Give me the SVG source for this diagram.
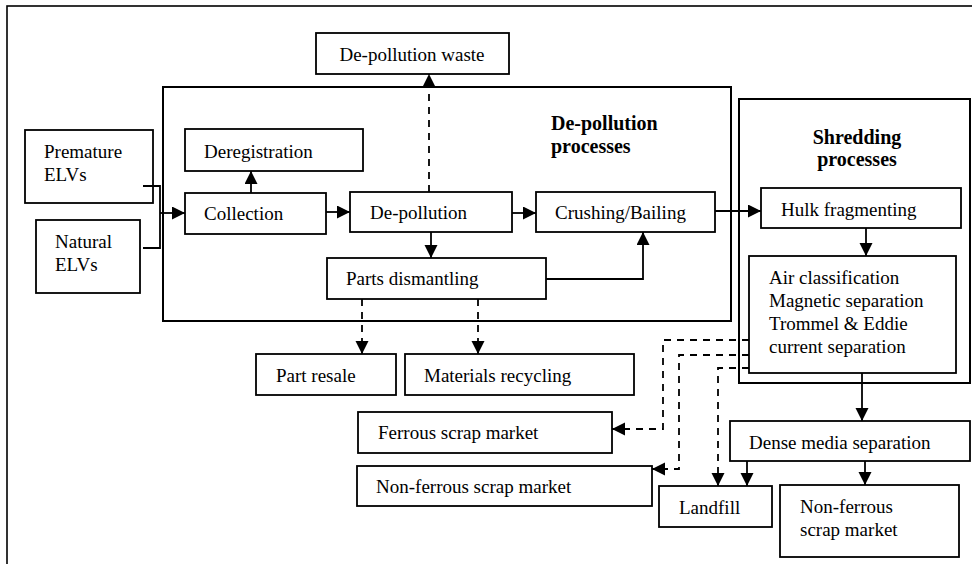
<svg xmlns="http://www.w3.org/2000/svg" width="972" height="564" viewBox="0 0 972 564">
<defs>
<marker id="ah" markerUnits="userSpaceOnUse" markerWidth="14" markerHeight="14" refX="13" refY="6.5" orient="auto">
<path d="M0,0 L13,6.5 L0,13 z" fill="#000"/>
</marker>
<style>
.box{fill:#fff;stroke:#000;stroke-width:1.8}
.grp{fill:none;stroke:#000;stroke-width:2}
.t{font-family:"Liberation Serif","Times New Roman",serif;font-size:19px;fill:#000}
.b{font-family:"Liberation Serif","Times New Roman",serif;font-size:20px;font-weight:bold;fill:#000}
.c{fill:none;stroke:#000;stroke-width:1.8}
.a{marker-end:url(#ah)}
.d{stroke-dasharray:7 6}
</style>
</defs>
<rect x="0" y="0" width="972" height="564" fill="#fff"/>
<rect x="7" y="6" width="975" height="575" fill="none" stroke="#000" stroke-width="1.6"/>

<g id="depollution-processes">
<rect class="grp" x="163" y="87" width="568" height="234"/>
<text class="b" x="551" y="130">De-pollution</text>
<text class="b" x="551" y="153">processes</text>
</g>
<g id="shredding-processes">
<rect class="grp" x="739" y="99" width="231" height="284"/>
<text class="b" x="857" y="144" text-anchor="middle">Shredding</text>
<text class="b" x="857" y="166" text-anchor="middle">processes</text>
</g>

<g id="connectors">
<polyline class="c" points="143,186 160,186 160,248 143,248"/>
<line class="c a" x1="160" y1="213" x2="185" y2="213"/>
<line class="c a" x1="251" y1="193" x2="251" y2="171"/>
<line class="c a" x1="326" y1="212" x2="350" y2="212"/>
<line class="c a d" x1="429" y1="192" x2="429" y2="74"/>
<line class="c a" x1="512" y1="213" x2="536" y2="213"/>
<line class="c a" x1="431" y1="232" x2="431" y2="258"/>
<polyline class="c a" points="546,279 643,279 643,232"/>
<line class="c a d" x1="362" y1="299" x2="362" y2="354"/>
<line class="c a d" x1="478" y1="299" x2="478" y2="354"/>
<line class="c a" x1="715" y1="211" x2="761" y2="211"/>
<line class="c a" x1="866" y1="228" x2="866" y2="256"/>
<polyline class="c a d" points="749,340 663,340 663,429 612,429"/>
<polyline class="c a d" points="749,355 679,355 679,469 652,469"/>
<polyline class="c a d" points="749,368 718,368 718,486"/>
<line class="c a" x1="862" y1="373" x2="862" y2="421"/>
<line class="c a" x1="747" y1="461" x2="747" y2="486"/>
<line class="c a" x1="865" y1="461" x2="865" y2="485"/>
</g>

<g id="premature">
<rect class="box" x="25" y="130" width="128" height="73" style="fill:none"/>
<text class="t" x="44" y="158">Premature</text>
<text class="t" x="44" y="181">ELVs</text>
</g>
<g id="natural">
<rect class="box" x="36" y="220" width="104" height="73"/>
<text class="t" x="55" y="248">Natural</text>
<text class="t" x="55" y="271">ELVs</text>
</g>
<g id="depollution-waste">
<rect class="box" x="316" y="33" width="193" height="41"/>
<text class="t" x="412" y="61" text-anchor="middle">De-pollution waste</text>
</g>
<g id="deregistration">
<rect class="box" x="185" y="129" width="178" height="42"/>
<text class="t" x="204" y="158">Deregistration</text>
</g>
<g id="collection">
<rect class="box" x="185" y="193" width="141" height="41"/>
<text class="t" x="204" y="220">Collection</text>
</g>
<g id="depollution">
<rect class="box" x="350" y="192" width="162" height="40"/>
<text class="t" x="370" y="219">De-pollution</text>
</g>
<g id="crushing">
<rect class="box" x="536" y="192" width="179" height="40"/>
<text class="t" x="555" y="219">Crushing/Bailing</text>
</g>
<g id="parts-dismantling">
<rect class="box" x="327" y="258" width="219" height="41"/>
<text class="t" x="346" y="285">Parts dismantling</text>
</g>
<g id="part-resale">
<rect class="box" x="256" y="354" width="140" height="41"/>
<text class="t" x="276" y="382">Part resale</text>
</g>
<g id="materials-recycling">
<rect class="box" x="405" y="354" width="229" height="41"/>
<text class="t" x="424" y="382">Materials recycling</text>
</g>
<g id="hulk-fragmenting">
<rect class="box" x="761" y="188" width="200" height="40"/>
<text class="t" x="781" y="216">Hulk fragmenting</text>
</g>
<g id="air-classification">
<rect class="box" x="749" y="256" width="207" height="117"/>
<text class="t" x="769" y="284">Air classification</text>
<text class="t" x="769" y="307">Magnetic separation</text>
<text class="t" x="769" y="330">Trommel &amp; Eddie</text>
<text class="t" x="769" y="353">current separation</text>
</g>
<g id="dense-media">
<rect class="box" x="730" y="421" width="240" height="40"/>
<text class="t" x="749" y="449">Dense media separation</text>
</g>
<g id="ferrous-market">
<rect class="box" x="358" y="412" width="254" height="41"/>
<text class="t" x="378" y="439">Ferrous scrap market</text>
</g>
<g id="nonferrous-market-left">
<rect class="box" x="357" y="466" width="295" height="40"/>
<text class="t" x="376" y="493">Non-ferrous scrap market</text>
</g>
<g id="landfill">
<rect class="box" x="659" y="486" width="113" height="41"/>
<text class="t" x="679" y="514">Landfill</text>
</g>
<g id="nonferrous-market-right">
<rect class="box" x="780" y="485" width="179" height="72"/>
<text class="t" x="800" y="513">Non-ferrous</text>
<text class="t" x="800" y="536">scrap market</text>
</g>
</svg>
